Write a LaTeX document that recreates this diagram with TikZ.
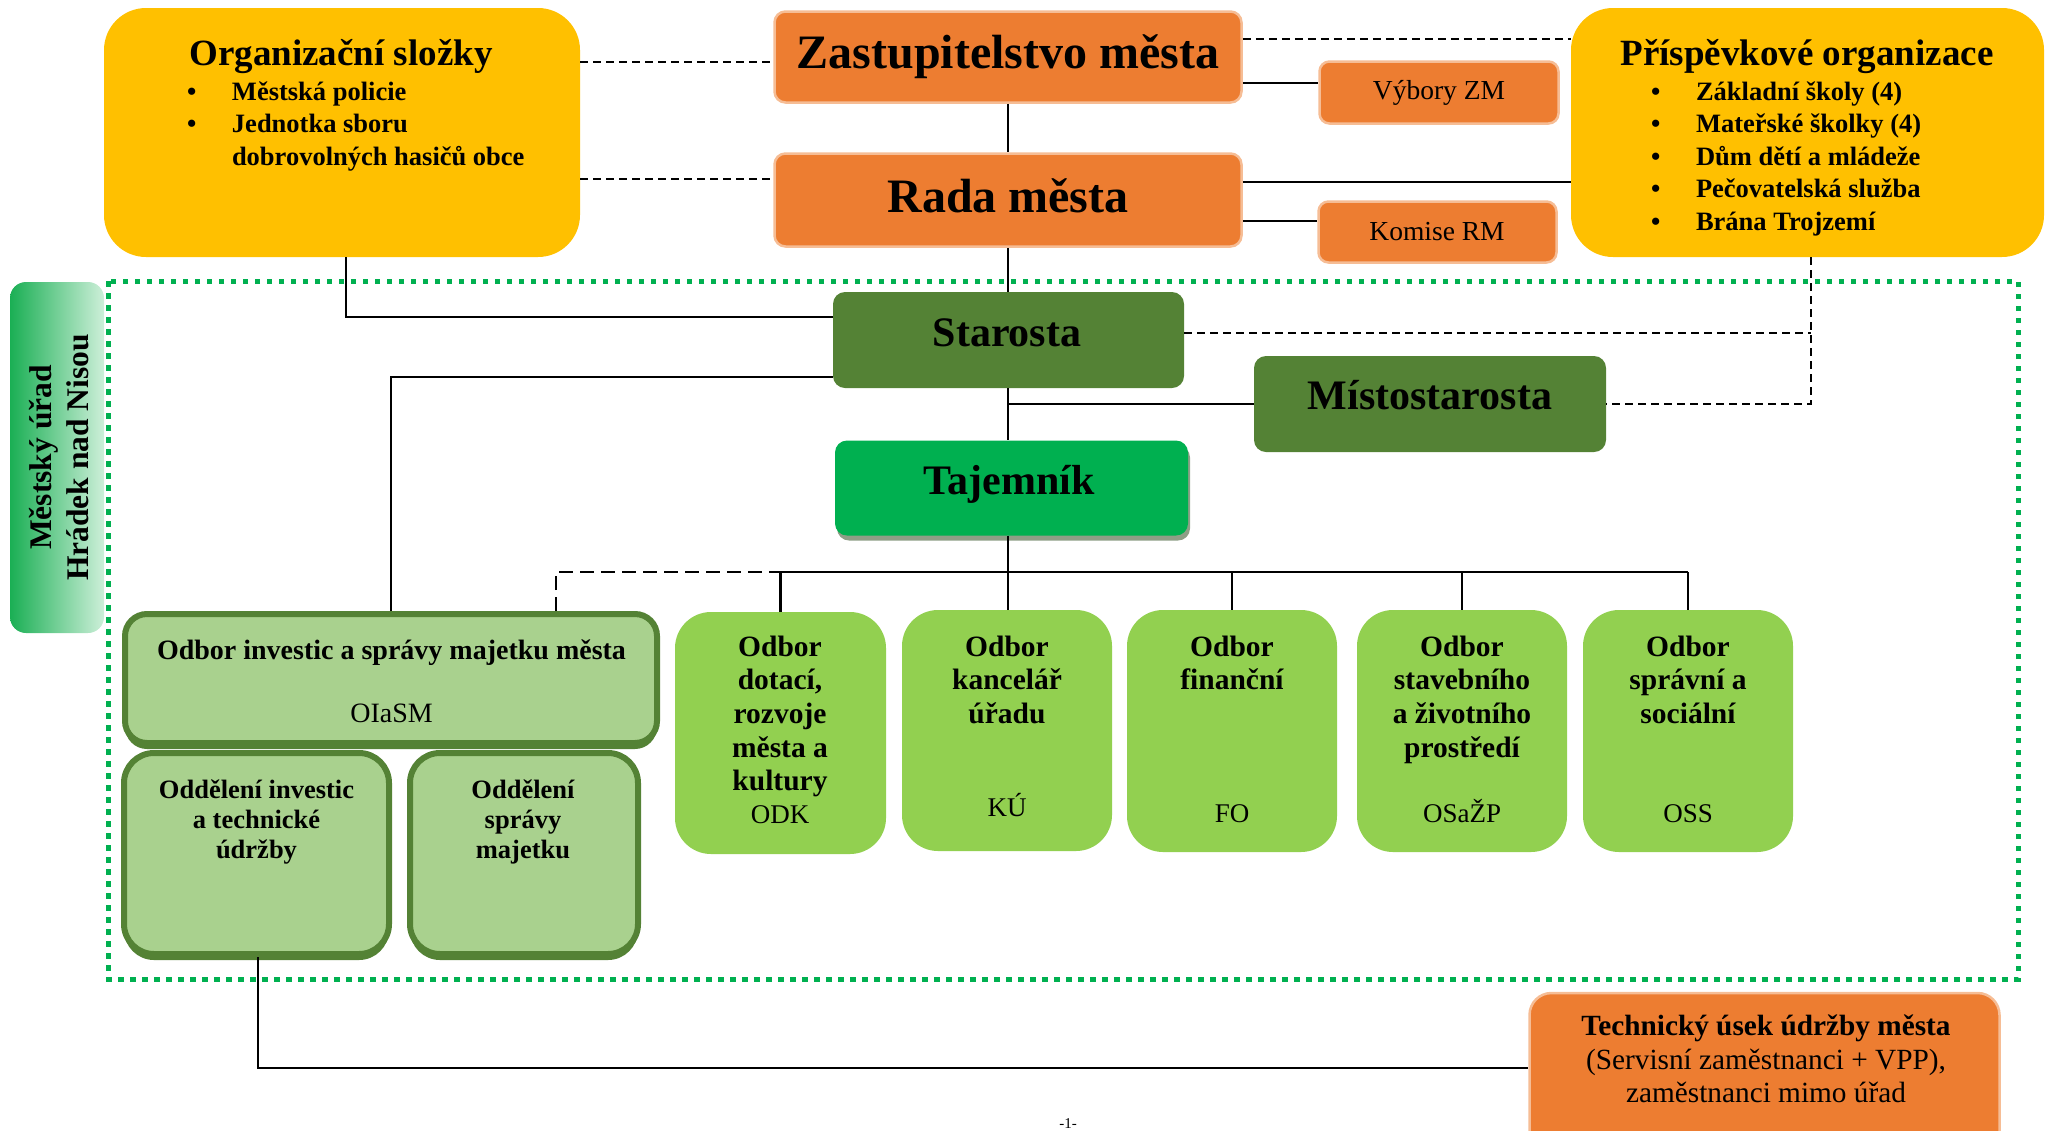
\documentclass[tikz,border=0pt]{standalone}
\usepackage{fontspec}
\setmainfont{Liberation Serif}
\usetikzlibrary{shadows}
\definecolor{orng}{HTML}{ED7D31}
\definecolor{orngedge}{HTML}{F6BD95}
\definecolor{gold}{HTML}{FFC000}
\definecolor{dkgreen}{HTML}{548235}
\definecolor{brgreen}{HTML}{00B050}
\definecolor{ltgreen}{HTML}{92D050}
\definecolor{palegreen}{HTML}{A9D18E}
\definecolor{sideL}{HTML}{1AAF54}
\definecolor{sideR}{HTML}{CDEFD9}
\definecolor{shadowc}{HTML}{8E9E86}
\newcommand{\setfs}[2]{\fontsize{#1}{#2}\selectfont}
\newcommand{\mytstrut}{\rule{0pt}{0.9em}}
\begin{document}
\begin{tikzpicture}[x=1pt,y=-1pt,
  orbox/.style={fill=orng, draw=orngedge, line width=2.5pt, rounded corners=11pt, inner sep=0pt},
  goldbox/.style={fill=gold, rounded corners=42pt, inner sep=0pt},
  dgbox/.style={fill=dkgreen, rounded corners=12pt, inner sep=0pt},
  tajbox/.style={fill=brgreen, rounded corners=12pt, inner sep=0pt,
     drop shadow={shadow xshift=2pt, shadow yshift=-5pt, fill=shadowc, opacity=1}},
  lgbox/.style={fill=ltgreen, rounded corners=36pt, inner sep=0pt},
  pgbox/.style={fill=palegreen, draw=dkgreen, line width=6pt, inner sep=0pt,
     drop shadow={shadow xshift=0pt, shadow yshift=-6pt, fill=dkgreen, opacity=1}},
  sidebox/.style={left color=sideL, right color=sideR, rounded corners=16pt, inner sep=0pt},
  frame/.style={draw=brgreen, line width=5pt, dash pattern=on 5.5pt off 6.5pt},
  ln/.style={line width=2.2pt, black},
  dsh/.style={ln, dash pattern=on 8pt off 5pt},
  dshL/.style={ln, dash pattern=on 14pt off 7pt},
  txt/.style={inner sep=0pt, outer sep=0pt},
]
\useasboundingbox (0,0) rectangle (2047,1130);
\clip (0,0) rectangle (2047,1130);

% frame of the municipal office
\draw[frame] (108,281) rectangle (2018,979);

% boxes
\node[goldbox, minimum width=476pt, minimum height=249pt] (org) at (342,132.5) {};
\node[goldbox, minimum width=473pt, minimum height=249pt] (prisp) at (1807.5,132.5) {};
\node[orbox, minimum width=467pt, minimum height=91pt] (zast) at (1008,57) {};
\node[orbox, minimum width=467pt, minimum height=93pt] (rada) at (1008,200) {};
\node[orbox, minimum width=239pt, minimum height=62pt, rounded corners=10pt] (vyb) at (1439,92.5) {};
\node[orbox, minimum width=238pt, minimum height=61pt, rounded corners=10pt] (kom) at (1437.5,232) {};
\node[dgbox, minimum width=351pt, minimum height=96pt] (star) at (1008.5,340) {};
\node[dgbox, minimum width=352pt, minimum height=96pt] (mist) at (1430,404) {};
\node[tajbox, minimum width=353pt, minimum height=95pt] (taj) at (1011.5,488) {};
\node[sidebox, minimum width=94pt, minimum height=351pt] (side) at (57,457.5) {};
\node[pgbox, minimum width=532pt, minimum height=129pt, rounded corners=22pt] (oiasm) at (391,678.5) {};
\node[pgbox, minimum width=265pt, minimum height=201pt, rounded corners=30pt] (odd1) at (256.5,853.5) {};
\node[pgbox, minimum width=228pt, minimum height=201pt, rounded corners=30pt] (odd2) at (524,853.5) {};
\node[lgbox, minimum width=211pt, minimum height=242pt] (odk) at (780.5,733) {};
\node[lgbox, minimum width=210pt, minimum height=241pt] (ku) at (1007,730.5) {};
\node[lgbox, minimum width=210pt, minimum height=242pt] (fo) at (1232,731) {};
\node[lgbox, minimum width=210pt, minimum height=242pt] (osazp) at (1462,731) {};
\node[lgbox, minimum width=210pt, minimum height=242pt] (oss) at (1688,731) {};
\node[orbox, minimum width=470pt, minimum height=190pt, rounded corners=22pt] (tech) at (1764.5,1088) {};

% helper coordinates
\coordinate (busy) at (0,572);
\coordinate (jn) at (769,572);
\coordinate (pd) at ([xshift=3.5pt]prisp.south);

% connectors
\draw[dsh] ([yshift=70.5pt]org.east) -- ([yshift=70.5pt]org.east -| zast.west);
\draw[dsh] ([yshift=-46.5pt]org.east) -- ([yshift=-46.5pt]org.east -| rada.west);
\draw[dsh] ([yshift=18pt]zast.east) -- ([yshift=18pt]zast.east -| prisp.west);
\draw[ln] ([yshift=-26pt]zast.east) -- ([yshift=-26pt]zast.east -| vyb.west);
\draw[ln] ([yshift=18pt]rada.east) -- ([yshift=18pt]rada.east -| prisp.west);
\draw[ln] ([yshift=-21pt]rada.east) -- ([yshift=-21pt]rada.east -| kom.west);
\draw[ln] (zast.south) -- (rada.north);
\draw[ln] (rada.south) -- (rada.south |- star.north);
\draw[ln] (rada.south |- star.south) -- (rada.south |- taj.north);
\draw[ln] (rada.south |- mist.west) -- (mist.west);
\draw[ln] (rada.south |- taj.south) -- (rada.south |- ku.north);
\draw[dshL] ([xshift=165pt]oiasm.north) -- ([xshift=165pt]oiasm.north |- busy) -- (jn);
\draw[ln] (jn) -- (oss.north |- busy);
\foreach \n in {odk,fo,osazp,oss} \draw[ln] (\n.north |- busy) -- (\n.north);
\draw[ln] ([xshift=4pt]org.south) |- ([yshift=23pt]star.west);
\draw[ln] ([yshift=-37pt]star.west) -| (oiasm.north);
\draw[dsh] (pd) |- (mist.east);
\draw[dsh] ([yshift=7pt]star.east) -- ([yshift=7pt]star.east -| pd);
\draw[ln] ([xshift=1.5pt]odd1.south) |- ([yshift=20pt]tech.west);

% texts
\node[txt, anchor=base, font=\setfs{48}{50}\bfseries] (zastT) at (1008,68) {Zastupitelstvo města};
\node[txt, anchor=base, font=\setfs{48}{50}\bfseries] (radaT) at (1008,212) {Rada města};
\node[txt, anchor=base, font=\setfs{27.5}{30}] (vybT) at (1439,99) {Výbory ZM};
\node[txt, anchor=base, font=\setfs{27.5}{30}] (komT) at (1437,240) {Komise RM};
\node[txt, anchor=base, font=\setfs{42}{44}\bfseries] (starT) at (1007,346) {Starosta};
\node[txt, anchor=base, font=\setfs{42}{44}\bfseries] (mistT) at (1430,409) {Místostarosta};
\node[txt, anchor=base, font=\setfs{42}{44}\bfseries] (tajT) at (1009,494) {Tajemník};
\node[txt, anchor=base, font=\setfs{37}{40}\bfseries] (orgT) at (341,65) {Organizační složky};
\node[txt, anchor=base, font=\setfs{37}{40}\bfseries] (prispT) at (1807,65) {Příspěvkové organizace};
\node[txt, anchor=north west, align=left, font=\setfs{26.5}{32.7}\bfseries] (orgL) at (187,76.15)
  {\mytstrut\makebox[45pt][l]{•}Městská policie\\
   \makebox[45pt][l]{•}Jednotka sboru\\
   \hspace*{45pt}dobrovolných hasičů obce};
\node[txt, anchor=north west, align=left, font=\setfs{26.5}{32.6}\bfseries] (prispL) at (1651,76.15)
  {\mytstrut\makebox[45pt][l]{•}Základní školy (4)\\
   \makebox[45pt][l]{•}Mateřské školky (4)\\
   \makebox[45pt][l]{•}Dům dětí a mládeže\\
   \makebox[45pt][l]{•}Pečovatelská služba\\
   \makebox[45pt][l]{•}Brána Trojzemí};
\node[txt, rotate=90, align=center, font=\setfs{31.5}{37}\bfseries] (sideT) at (59,457.5)
  {Městský úřad\\Hrádek nad Nisou};
\node[txt, anchor=base, font=\setfs{28}{30}\bfseries] (oiasmT) at (391.5,659) {Odbor investic a správy majetku města};
\node[txt, anchor=base, font=\setfs{28}{30}] (oiasmA) at (391.5,722) {OIaSM};
\node[txt, anchor=north, align=center, font=\setfs{26.5}{30}\bfseries] (odd1T) at (256.5,774.15)
  {\mytstrut Oddělení investic\\a technické\\údržby};
\node[txt, anchor=north, align=center, font=\setfs{26.5}{30}\bfseries] (odd2T) at (523,774.15)
  {\mytstrut Oddělení\\správy\\majetku};
\node[txt, anchor=north, align=center, font=\setfs{29.5}{33.7}\bfseries] (odkT) at (780,629.45)
  {\mytstrut Odbor\\dotací,\\rozvoje\\města a\\kultury};
\node[txt, anchor=base, font=\setfs{27}{30}] (odkA) at (780,823) {ODK};
\node[txt, anchor=north, align=center, font=\setfs{29.5}{33.7}\bfseries] (kuT) at (1007,629.45)
  {\mytstrut Odbor\\kancelář\\úřadu};
\node[txt, anchor=base, font=\setfs{27}{30}] (kuA) at (1007,816) {KÚ};
\node[txt, anchor=north, align=center, font=\setfs{29.5}{33.7}\bfseries] (foT) at (1232,629.45)
  {\mytstrut Odbor\\finanční};
\node[txt, anchor=base, font=\setfs{27}{30}] (foA) at (1232,822) {FO};
\node[txt, anchor=north, align=center, font=\setfs{29.5}{33.7}\bfseries] (osazpT) at (1462,629.45)
  {\mytstrut Odbor\\stavebního\\a životního\\prostředí};
\node[txt, anchor=base, font=\setfs{27}{30}] (osazpA) at (1462,822) {OSaŽP};
\node[txt, anchor=north, align=center, font=\setfs{29.5}{33.7}\bfseries] (ossT) at (1688,629.45)
  {\mytstrut Odbor\\správní a\\sociální};
\node[txt, anchor=base, font=\setfs{27}{30}] (ossA) at (1688,822) {OSS};
\node[txt, anchor=north, align=center, font=\setfs{29.3}{33.5}] (techT) at (1766,1009.6)
  {\mytstrut\textbf{Technický úsek údržby města}\\(Servisní zaměstnanci + VPP),\\zaměstnanci mimo úřad};
\node[txt, anchor=base, font=\setfs{15}{16}] (pnum) at (1068,1128) {-1-};
\end{tikzpicture}
\end{document}
